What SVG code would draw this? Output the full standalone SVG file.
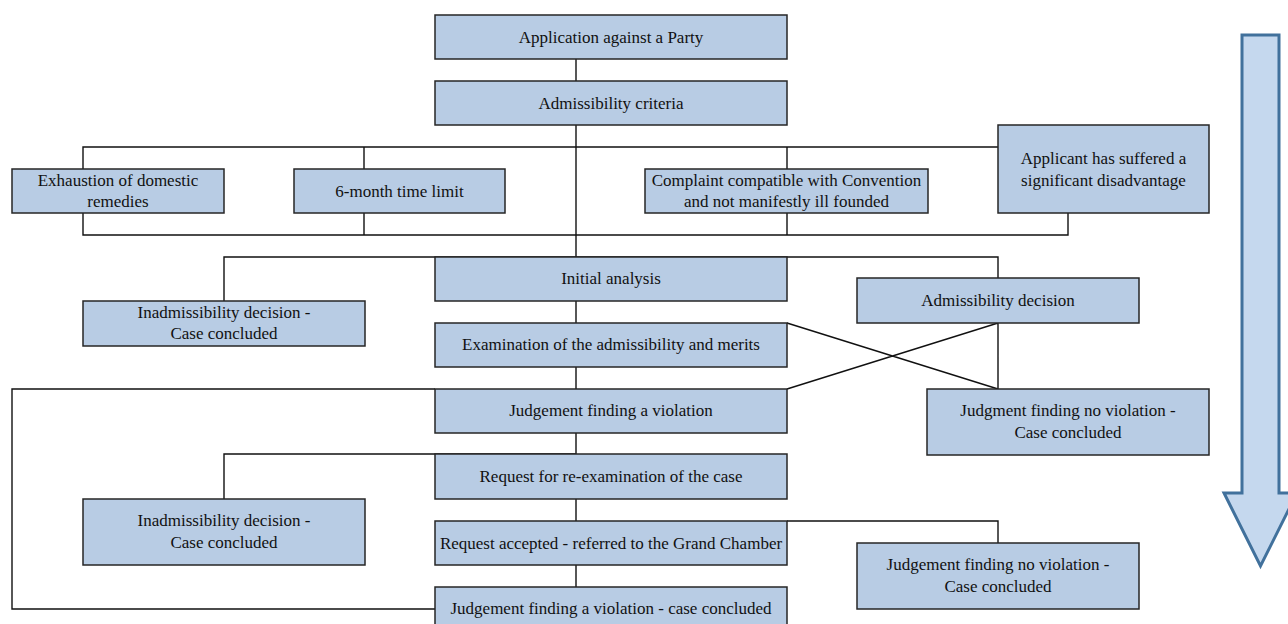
<svg xmlns="http://www.w3.org/2000/svg" width="1288" height="624" viewBox="0 0 1288 624">
<style>
.box{fill:#B8CCE4;stroke:#262626;stroke-width:1.5}
.t{font-family:"Liberation Serif","Times New Roman",serif;font-size:17px;fill:#111;text-anchor:middle}
.c{fill:none;stroke:#111;stroke-width:1.4}
</style>
<rect width="1288" height="624" fill="#fff"/>
<g id="connectors">
<path class="c" d="M576,59V81"/>
<path class="c" d="M576,125V257"/>
<path class="c" d="M83,169V147H998"/>
<path class="c" d="M364,147V169M787,147V169"/>
<path class="c" d="M83,213V235H1068V213"/>
<path class="c" d="M364,213V235M787,213V235"/>
<path class="c" d="M224,301V257H998V278"/>
<path class="c" d="M576,301V323M576,367V389"/>
<path class="c" d="M787,323L998,389M787,389L998,323M998,323V389"/>
<path class="c" d="M435,389H12V609H435"/>
<path class="c" d="M576,433V454M224,499V454H576"/>
<path class="c" d="M576,499V521M787,521H998V543M576,565V587"/>
</g>
<g id="n1"><rect class="box" x="435" y="15" width="352" height="44"/><text class="t" x="611" y="43">Application against a Party</text></g>
<g id="n2"><rect class="box" x="435" y="81" width="352" height="44"/><text class="t" x="611" y="109">Admissibility criteria</text></g>
<g id="n3"><rect class="box" x="12" y="169" width="212" height="44"/><text class="t" x="118" y="186">Exhaustion of domestic</text><text class="t" x="118" y="207">remedies</text></g>
<g id="n4"><rect class="box" x="294" y="169" width="211" height="44"/><text class="t" x="399.5" y="197">6-month time limit</text></g>
<g id="n5"><rect class="box" x="645" y="169" width="283" height="44"/><text class="t" x="786.5" y="186">Complaint compatible with Convention</text><text class="t" x="786.5" y="207">and not manifestly ill founded</text></g>
<g id="n6"><rect class="box" x="998" y="125" width="211" height="88"/><text class="t" x="1103.5" y="164">Applicant has suffered a</text><text class="t" x="1103.5" y="186">significant disadvantage</text></g>
<g id="n7"><rect class="box" x="435" y="257" width="352" height="44"/><text class="t" x="611" y="284">Initial analysis</text></g>
<g id="n8"><rect class="box" x="83" y="301" width="282" height="45"/><text class="t" x="224" y="318">Inadmissibility decision -</text><text class="t" x="224" y="339">Case concluded</text></g>
<g id="n9"><rect class="box" x="857" y="278" width="282" height="45"/><text class="t" x="998" y="306">Admissibility decision</text></g>
<g id="n10"><rect class="box" x="435" y="323" width="352" height="44"/><text class="t" x="611" y="350">Examination of the admissibility and merits</text></g>
<g id="n11"><rect class="box" x="435" y="389" width="352" height="44"/><text class="t" x="611" y="416">Judgement finding a violation</text></g>
<g id="n12"><rect class="box" x="927" y="389" width="282" height="66"/><text class="t" x="1068" y="416">Judgment finding no violation -</text><text class="t" x="1068" y="438">Case concluded</text></g>
<g id="n13"><rect class="box" x="435" y="454" width="352" height="45"/><text class="t" x="611" y="482">Request for re-examination of the case</text></g>
<g id="n14"><rect class="box" x="83" y="499" width="282" height="66"/><text class="t" x="224" y="526">Inadmissibility decision -</text><text class="t" x="224" y="548">Case concluded</text></g>
<g id="n15"><rect class="box" x="435" y="521" width="352" height="44"/><text class="t" x="611" y="549">Request accepted - referred to the Grand Chamber</text></g>
<g id="n16"><rect class="box" x="857" y="543" width="282" height="66"/><text class="t" x="998" y="570">Judgement finding no violation -</text><text class="t" x="998" y="592">Case concluded</text></g>
<g id="n17"><rect class="box" x="435" y="587" width="352" height="44"/><text class="t" x="611" y="614">Judgement finding a violation - case concluded</text></g>
<g id="arrow"><path d="M1242,35H1279V493H1297L1260.5,566L1224,493H1242Z" fill="#C5D8EE" stroke="#41719C" stroke-width="3" stroke-linejoin="miter"/></g>
</svg>
